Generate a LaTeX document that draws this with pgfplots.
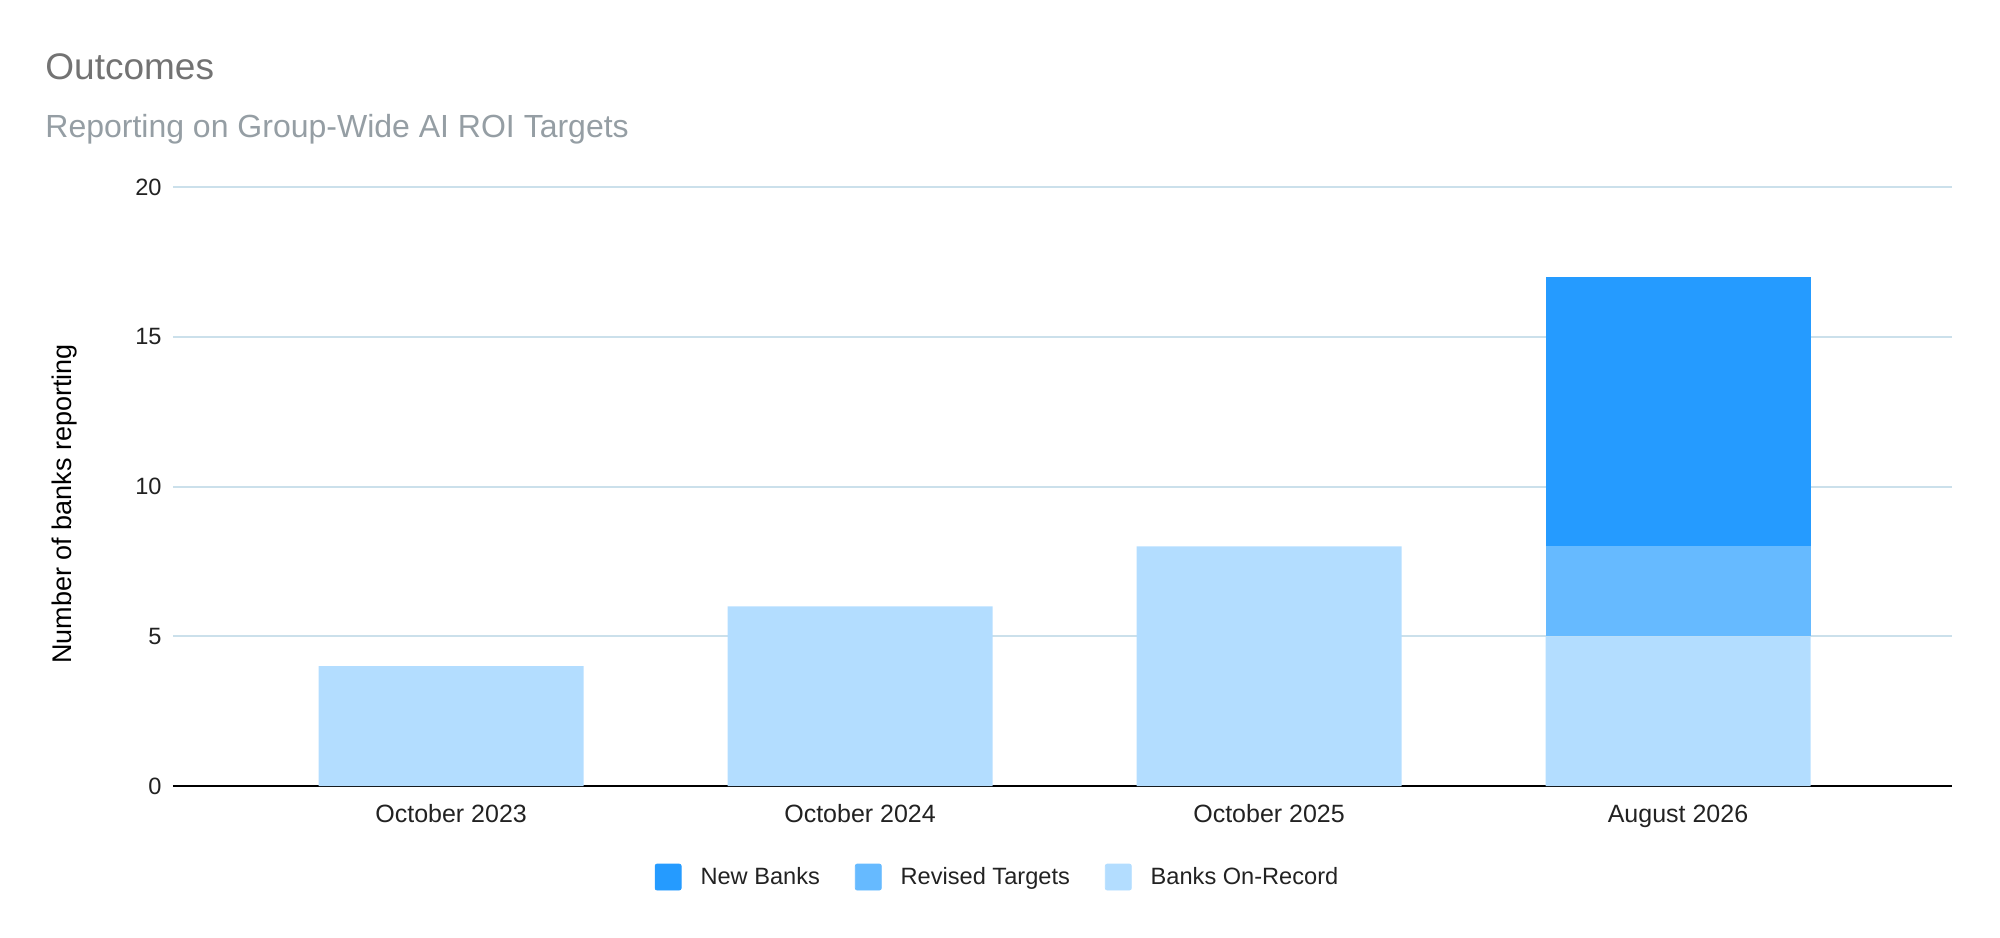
\documentclass[border=0pt]{standalone}
\usepackage{fontspec}
\setmainfont{Liberation Sans}
\usepackage{pgfplots}
\pgfplotsset{compat=1.18}
\definecolor{cNew}{HTML}{259BFF}
\definecolor{cRev}{HTML}{66BAFF}
\definecolor{cRec}{HTML}{B3DDFF}
\definecolor{gridc}{HTML}{CBE0EB}
\definecolor{titlegray}{HTML}{737373}
\definecolor{subgray}{HTML}{959EA4}
\definecolor{txt}{HTML}{222222}
\begin{document}
\begin{tikzpicture}
\path[use as bounding box] (-86.5pt,-75.5pt) rectangle (913.5pt,393pt);
\node[anchor=base west, inner sep=0pt, text=titlegray, font=\fontsize{18.5}{22}\selectfont] at (-64pt,353pt) {Outcomes};
\node[anchor=base west, inner sep=0pt, text=subgray, font=\fontsize{16}{19}\selectfont] at (-64pt,324pt) {Reporting on Group-Wide AI ROI Targets};
\begin{axis}[
  scale only axis,
  width=889.5pt, height=299.5pt,
  at={(0pt,0pt)}, anchor=south west,
  ybar stacked,
  bar width=132.5pt,
  xmin=-0.68, xmax=3.67,
  ymin=0, ymax=20,
  xtick={0,1,2,3},
  xticklabels={October 2023,October 2024,October 2025,August 2026},
  ytick={0,5,10,15,20},
  ymajorgrids,
  grid style={gridc, line width=1pt},
  extra y ticks={0},
  extra y tick labels={},
  extra y tick style={grid style={black, line width=1pt}},
  axis line style={draw=none},
  major tick length=0pt,
  /pgf/number format/assume math mode=true,
  yticklabel style={font=\fontsize{11.8}{13}\selectfont, text=txt, anchor=east, inner sep=0pt, xshift=-5.5pt},
  xticklabel style={font=\fontsize{12.5}{14}\selectfont, text=txt, anchor=base, inner sep=0pt, yshift=-18pt},
  ylabel={Number of banks reporting},
  ylabel style={at={(axis description cs:-0.0568,0.471)}, anchor=base, font=\fontsize{13.5}{16}\selectfont, text=black, inner sep=0pt},
  legend columns=3,
  legend style={at={(axis description cs:0.4629,-0.152)}, anchor=center, draw=none, fill=none,
    font=\fontsize{11.8}{13}\selectfont, text=txt,
    nodes={inner sep=0pt, anchor=west},
    /tikz/every odd column/.append style={column sep=9.5pt},
    /tikz/every even column/.append style={column sep=17.5pt}},
]
\addlegendimage{legend image code/.code={\fill[cNew, rounded corners=1pt] (0pt,-6.5pt) rectangle (13pt,6.5pt);}}
\addlegendentry{New Banks}
\addlegendimage{legend image code/.code={\fill[cRev, rounded corners=1pt] (0pt,-6.5pt) rectangle (13pt,6.5pt);}}
\addlegendentry{Revised Targets}
\addlegendimage{legend image code/.code={\fill[cRec, rounded corners=1pt] (0pt,-6.5pt) rectangle (13pt,6.5pt);}}
\addlegendentry{Banks On-Record}
% Banks On-Record (bottom)
\addplot[fill=cRec, draw=none, forget plot] coordinates {(0,4) (1,6) (2,8) (3,5)};
% Revised Targets
\addplot[fill=cRev, draw=none, forget plot] coordinates {(0,0) (1,0) (2,0) (3,3)};
% New Banks (top)
\addplot[fill=cNew, draw=none, forget plot] coordinates {(0,0) (1,0) (2,0) (3,9)};
\end{axis}
\end{tikzpicture}
\end{document}
